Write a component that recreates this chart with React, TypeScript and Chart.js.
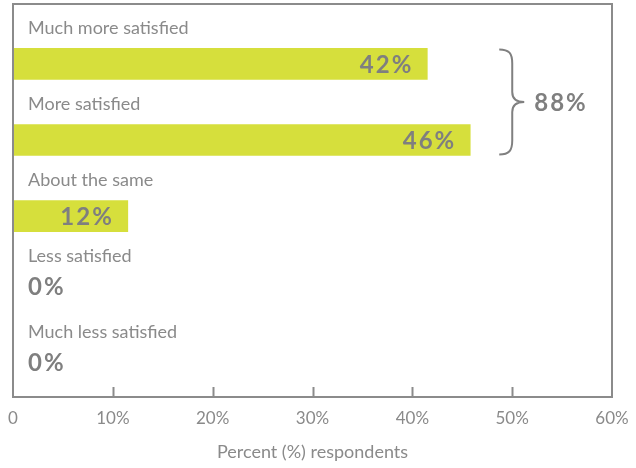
import React, { useEffect, useRef } from 'react';
import { Chart, registerables } from 'chart.js';

Chart.register(...registerables);

const categories = [
  'Much more satisfied',
  'More satisfied',
  'About the same',
  'Less satisfied',
  'Much less satisfied',
];
const values = [41.5, 45.8, 11.5, 0, 0];
const valueLabels = ['42%', '46%', '12%', '0%', '0%'];
const bracketRows = [0, 1];
const bracketLabel = '88%';
const xTickValues = [0, 10, 20, 30, 40, 50, 60];
const xTitle = 'Percent (%) respondents';

const FONT = 'Lato, "Open Sans", sans-serif';
const GRAY = '#8b8b8b';
const TEXT = '#8a8a8a';
const VALUE_TEXT = '#7f7f7f';
const BAR = '#d6df3c';

const framePlugin = {
  id: 'frameAndLabels',
  afterDatasetsDraw(chart: any) {
    const { ctx, chartArea } = chart;
    const xs = chart.scales.x;
    const meta = chart.getDatasetMeta(0);
    ctx.save();
    // frame
    ctx.strokeStyle = GRAY;
    ctx.lineWidth = 2;
    ctx.strokeRect(chartArea.left, chartArea.top, chartArea.right - chartArea.left, chartArea.bottom - chartArea.top);
    // inward tick marks
    xTickValues.forEach((v) => {
      if (v === xTickValues[0] || v === xTickValues[xTickValues.length - 1]) return;
      const px = Math.round(xs.getPixelForValue(v)) + 0.5;
      ctx.beginPath();
      ctx.moveTo(px, chartArea.bottom);
      ctx.lineTo(px, chartArea.bottom - 10);
      ctx.stroke();
    });

    const x0 = xs.getPixelForValue(0);
    meta.data.forEach((bar: any, i: number) => {
      const props = bar.getProps(['x', 'y', 'height'], true);
      // category label
      ctx.font = `18px ${FONT}`;
      ctx.fillStyle = TEXT;
      ctx.textAlign = 'left';
      ctx.textBaseline = 'middle';
      (ctx as any).letterSpacing = '0px';
      ctx.fillText(categories[i], x0 + 15, props.y - 36);
      // value label
      ctx.font = `bold 24px ${FONT}`;
      ctx.fillStyle = VALUE_TEXT;
      (ctx as any).letterSpacing = '2px';
      if (values[i] > 5) {
        ctx.textAlign = 'right';
        ctx.fillText(valueLabels[i], props.x - 14, props.y + 1);
      } else {
        ctx.textAlign = 'left';
        ctx.fillText(valueLabels[i], x0 + 15, props.y - 5);
      }
    });

    // bracket
    const b0 = meta.data[bracketRows[0]].getProps(['x', 'y', 'height'], true);
    const b1 = meta.data[bracketRows[1]].getProps(['x', 'y', 'height'], true);
    const top = b0.y - b0.height / 2 + 1;
    const bottom = b1.y + b1.height / 2 - 1;
    const ym = (top + bottom) / 2;
    const bx = Math.max(b0.x, b1.x) + 29;
    ctx.strokeStyle = '#808080';
    ctx.lineWidth = 2;
    ctx.beginPath();
    ctx.moveTo(bx, top);
    ctx.bezierCurveTo(bx + 10, top, bx + 13, top + 4, bx + 13, top + 14);
    ctx.lineTo(bx + 13, ym - 10);
    ctx.bezierCurveTo(bx + 13, ym - 3, bx + 18, ym, bx + 25, ym);
    ctx.bezierCurveTo(bx + 18, ym, bx + 13, ym + 3, bx + 13, ym + 10);
    ctx.lineTo(bx + 13, bottom - 14);
    ctx.bezierCurveTo(bx + 13, bottom - 4, bx + 10, bottom, bx, bottom);
    ctx.stroke();
    ctx.font = `bold 24px ${FONT}`;
    ctx.fillStyle = VALUE_TEXT;
    ctx.textAlign = 'left';
    ctx.textBaseline = 'middle';
    (ctx as any).letterSpacing = '2px';
    ctx.fillText(bracketLabel, bx + 35, ym + 1);
    ctx.restore();
  },
};

export default function App() {
  const ref = useRef<HTMLCanvasElement | null>(null);
  useEffect(() => {
    if (!ref.current) return;
    const chart = new Chart(ref.current, {
      type: 'bar',
      data: {
        datasets: [
          {
            data: values.map((v, i) => ({ x: v, y: i })),
            backgroundColor: BAR,
            borderWidth: 0,
            barThickness: 31,
          },
        ],
      },
      options: {
        indexAxis: 'y',
        animation: false,
        responsive: false,
        devicePixelRatio: 1,
        layout: { padding: { top: 4, left: 13, right: 24, bottom: 5 } },
        plugins: { legend: { display: false }, tooltip: { enabled: false } },
        scales: {
          y: {
            type: 'linear',
            bounds: 'data',
            offset: false,
            reverse: true,
            min: -0.788,
            max: 4.378,
            display: false,
          },
          x: {
            type: 'linear',
            bounds: 'data',
            offset: false,
            min: 0,
            max: 60,
            afterBuildTicks: (scale: any) => {
              scale.ticks = xTickValues.map((v) => ({ value: v }));
            },
            grid: { display: false, drawTicks: true, tickLength: 5 },
            border: { display: false },
            ticks: {
              padding: 6,
              color: TEXT,
              font: { family: FONT, size: 17 },
              callback: (v: any) => (Number(v) === 0 ? '0' : `${v}%`),
            },
            title: {
              display: true,
              text: xTitle,
              color: TEXT,
              font: { family: FONT, size: 18 },
              padding: { top: 7, bottom: 0 },
            },
          },
        },
      },
      plugins: [framePlugin],
    });
    return () => chart.destroy();
  }, []);
  return (
    <div style={{ position: 'fixed', left: 0, top: 0, width: 636, height: 468, background: '#fff' }}>
      <canvas ref={ref} width={636} height={468} />
    </div>
  );
}
